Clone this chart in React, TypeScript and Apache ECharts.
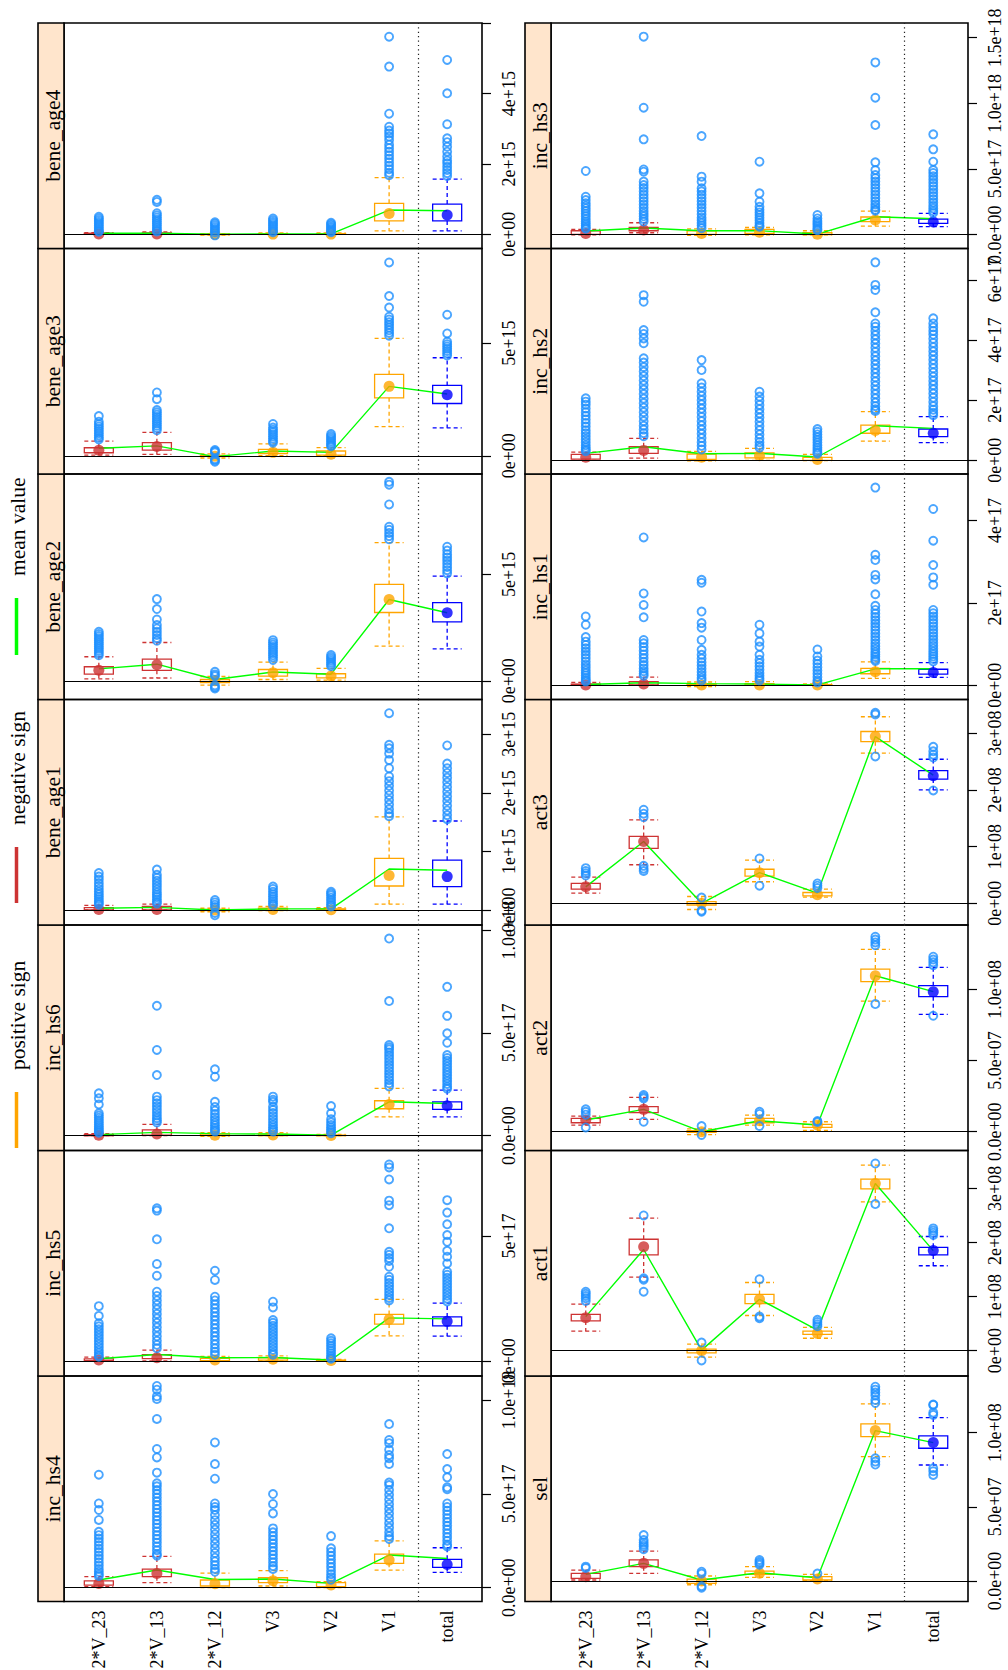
import React, { useEffect, useRef } from "react";
import * as echarts from "echarts";

// ---- data -------------------------------------------------------------

const categories = ["2*V_23", "2*V_13", "2*V_12", "V3", "V2", "V1", "total"];
const categorySign = ["negative", "negative", "positive", "positive", "positive", "positive", "total"];

// panel order follows the lattice layout: sel .. inc_hs3 (first column), inc_hs4 .. bene_age4 (second)
const panelNames = [
  "sel", "act1", "act2", "act3", "inc_hs1", "inc_hs2", "inc_hs3",
  "inc_hs4", "inc_hs5", "inc_hs6", "bene_age1", "bene_age2", "bene_age3", "bene_age4",
];

// values below are stored in units of 10^valueExponent
const valueExponent = [8, 8, 8, 8, 17, 17, 17, 17, 17, 17, 15, 15, 15, 15];

const axisMin = [-0.138, -0.468, -0.132, -0.383, -0.345, -0.455, -1.05, -0.735, -0.61, -0.72, -0.256, -0.88, -0.81, -0.404];
const axisMax = [1.382, 3.7, 1.4526, 3.594, 5.13, 7.04, 16.12, 11.28, 8.43, 10.25, 3.594, 9.72, 9.2, 6.01];

const tickValues = [
  [0, 0.5, 1], [0, 1, 2, 3], [0, 0.5, 1], [0, 1, 2, 3], [0, 2, 4], [0, 2, 4, 6], [0, 5, 10, 15],
  [0, 5, 10], [0, 5], [0, 5, 10], [0, 1, 2, 3], [0, 5], [0, 5], [0, 2, 4, 6],
];
const labelValues = [
  [0, 0.5, 1], [0, 1, 2, 3], [0, 0.5, 1], [0, 1, 2, 3], [0, 2, 4], [0, 2, 4, 6], [0, 5, 10, 15],
  [0, 5, 10], [0, 5], [0, 5, 10], [0, 1, 2, 3], [0, 5], [0, 5], [0, 2, 4],
];
const labelDigits = [1, 0, 1, 0, 0, 0, 1, 1, 0, 1, 0, 0, 0, 0];

const lowerHinge = [
  [0.018, 0.097, -0.016, 0.045, 0.007, 0.973, 0.895],
  [0.55, 1.77, -0.04, 0.87, 0.3, 2.99, 1.77],
  [0.063, 0.134, -0.004, 0.063, 0.03, 1.054, 0.949],
  [0.25, 0.97, -0.03, 0.48, 0.13, 2.85, 2.19],
  [0.005, 0.01, 0.0, 0.005, 0.002, 0.28, 0.27],
  [0.04, 0.23, 0.03, 0.08, 0.0, 0.9, 0.79],
  [0.03, 0.3, 0.03, 0.1, 0.0, 0.99, 0.86],
  [0.14, 0.59, 0.09, 0.27, 0.05, 1.3, 1.08],
  [0.01, 0.09, 0.01, 0.03, 0.0, 1.47, 1.4],
  [0.0, 0.03, 0.0, 0.0, 0.0, 1.31, 1.28],
  [0.0, 0.0, -0.01, 0.0, 0.0, 0.41, 0.4],
  [0.31, 0.49, -0.09, 0.22, 0.14, 3.21, 2.77],
  [0.133, 0.25, -0.03, 0.1, 0.03, 2.57, 2.32],
  [0.0, 0.0, -0.01, 0.0, 0.0, 0.38, 0.38],
];

const medians = [
  [0.029, 0.119, 0.0, 0.052, 0.013, 1.014, 0.933],
  [0.61, 1.92, 0.0, 0.95, 0.32, 3.09, 1.85],
  [0.082, 0.157, 0.0, 0.077, 0.047, 1.096, 0.984],
  [0.29, 1.09, 0.0, 0.54, 0.15, 2.94, 2.25],
  [0.01, 0.03, 0.005, 0.01, 0.005, 0.33, 0.31],
  [0.1, 0.33, 0.1, 0.155, 0.03, 0.99, 0.9],
  [0.1, 0.36, 0.1, 0.18, 0.03, 1.12, 0.96],
  [0.23, 0.76, 0.21, 0.37, 0.14, 1.47, 1.24],
  [0.03, 0.12, 0.03, 0.06, 0.01, 1.66, 1.58],
  [0.02, 0.08, 0.02, 0.03, 0.01, 1.52, 1.46],
  [0.01, 0.01, 0.0, 0.01, 0.005, 0.59, 0.57],
  [0.49, 0.75, 0.0, 0.38, 0.22, 3.82, 3.2],
  [0.24, 0.41, -0.02, 0.15, 0.07, 3.08, 2.71],
  [0.01, 0.01, 0.0, 0.005, 0.005, 0.59, 0.55],
];

const upperHinge = [
  [0.052, 0.142, 0.013, 0.067, 0.029, 1.059, 0.978],
  [0.67, 2.06, 0.03, 1.04, 0.36, 3.17, 1.91],
  [0.094, 0.176, 0.008, 0.094, 0.052, 1.143, 1.026],
  [0.35, 1.18, 0.03, 0.6, 0.19, 3.03, 2.34],
  [0.03, 0.09, 0.03, 0.04, 0.015, 0.41, 0.39],
  [0.2, 0.45, 0.21, 0.25, 0.1, 1.17, 1.04],
  [0.3, 0.56, 0.3, 0.41, 0.15, 1.35, 1.19],
  [0.36, 0.99, 0.41, 0.53, 0.27, 1.79, 1.51],
  [0.08, 0.25, 0.1, 0.12, 0.03, 1.86, 1.76],
  [0.05, 0.28, 0.08, 0.08, 0.03, 1.7, 1.65],
  [0.04, 0.06, 0.01, 0.03, 0.02, 0.88, 0.85],
  [0.66, 1.02, 0.06, 0.53, 0.33, 4.53, 3.67],
  [0.355, 0.58, 0.01, 0.28, 0.21, 3.61, 3.12],
  [0.03, 0.04, 0.01, 0.02, 0.02, 0.88, 0.86],
];

const whiskerLow = [
  [0.007, 0.052, -0.025, 0.025, 0.002, 0.838, 0.782],
  [0.36, 1.36, -0.12, 0.65, 0.23, 2.75, 1.57],
  [0.047, 0.087, -0.02, 0.047, 0.01, 0.918, 0.825],
  [0.18, 0.68, -0.11, 0.38, 0.11, 2.65, 2.0],
  [0.0, 0.0, -0.03, 0.0, 0.0, 0.17, 0.19],
  [0.0, 0.07, -0.02, 0.0, -0.01, 0.64, 0.59],
  [-0.02, 0.15, -0.05, -0.02, -0.02, 0.66, 0.61],
  [0.05, 0.27, 0.0, 0.09, 0.0, 0.94, 0.82],
  [0.0, 0.0, -0.02, 0.0, 0.0, 1.0, 0.99],
  [0.0, 0.0, -0.03, 0.0, 0.0, 0.92, 0.92],
  [0.0, 0.0, -0.03, -0.01, 0.0, 0.1, 0.1],
  [0.09, 0.13, -0.2, 0.06, 0.03, 1.63, 1.5],
  [0.03, 0.06, -0.1, 0.0, 0.0, 1.29, 1.24],
  [0.0, 0.0, -0.02, 0.0, 0.0, 0.1, 0.1],
];

const whiskerHigh = [
  [0.074, 0.202, 0.034, 0.097, 0.045, 1.194, 1.101],
  [0.86, 2.45, 0.12, 1.26, 0.43, 3.43, 2.11],
  [0.11, 0.241, 0.02, 0.117, 0.07, 1.281, 1.155],
  [0.46, 1.47, 0.12, 0.76, 0.25, 3.29, 2.54],
  [0.07, 0.2, 0.08, 0.09, 0.035, 0.57, 0.55],
  [0.27, 0.73, 0.3, 0.4, 0.2, 1.62, 1.45],
  [0.4, 0.91, 0.45, 0.55, 0.3, 1.8, 1.62],
  [0.59, 1.67, 0.78, 0.91, 0.32, 2.49, 2.13],
  [0.15, 0.43, 0.18, 0.2, 0.06, 2.46, 2.31],
  [0.1, 0.55, 0.15, 0.15, 0.06, 2.3, 2.22],
  [0.08, 0.1, 0.03, 0.06, 0.04, 1.59, 1.52],
  [1.13, 1.8, 0.2, 0.88, 0.58, 6.49, 4.92],
  [0.65, 1.04, 0.08, 0.53, 0.36, 5.21, 4.35],
  [0.05, 0.07, 0.02, 0.04, 0.04, 1.61, 1.57],
];

const means = [
  [0.045, 0.119, 0.007, 0.056, 0.022, 1.014, 0.933],
  [0.63, 1.87, 0.01, 0.95, 0.38, 3.09, 1.85],
  [0.082, 0.157, 0.0, 0.077, 0.047, 1.096, 0.984],
  [0.29, 1.09, 0.0, 0.54, 0.18, 2.94, 2.26],
  [0.02, 0.06, 0.04, 0.03, 0.01, 0.4, 0.4],
  [0.23, 0.45, 0.22, 0.23, 0.11, 1.15, 1.06],
  [0.28, 0.51, 0.3, 0.3, 0.05, 1.37, 1.22],
  [0.41, 0.94, 0.44, 0.46, 0.23, 1.74, 1.56],
  [0.08, 0.25, 0.12, 0.13, 0.03, 1.72, 1.68],
  [0.05, 0.16, 0.1, 0.08, 0.03, 1.65, 1.57],
  [0.03, 0.045, 0.0, 0.02, 0.02, 0.7, 0.68],
  [0.56, 0.78, 0.06, 0.41, 0.31, 3.82, 3.2],
  [0.33, 0.44, -0.04, 0.21, 0.15, 3.08, 2.74],
  [0.03, 0.03, 0.0, 0.01, 0.01, 0.69, 0.67],
];

const outliers: number[][][] = [
  // sel
  [
    [0.097, 0.088],
    [0.31, 0.276, 0.26, 0.245, 0.232, 0.215],
    [0.063, 0.05, -0.035, -0.045],
    [0.142, 0.13, 0.12, 0.11],
    [0.05],
    [1.31, 1.29, 1.27, 1.25, 1.22, 1.2, 0.827, 0.805, 0.785],
    [1.19, 1.187, 1.135, 1.12, 0.76, 0.74, 0.715],
  ],
  // act1
  [
    [1.09, 1.05, 1.01, 0.97, 0.92],
    [2.5, 1.34, 1.31, 1.09],
    [0.15, -0.18],
    [1.32, 0.63, 0.6],
    [0.57, 0.53, 0.49, 0.45],
    [3.46, 2.71],
    [2.26, 2.22, 2.18, 2.14],
  ],
  // act2
  [
    [0.157, 0.14, 0.12, 0.03],
    [0.258, 0.245, 0.234, 0.07],
    [0.04, -0.023],
    [0.14, 0.125, 0.04],
    [0.075, 0.068],
    [1.37, 1.35, 1.33, 1.31, 0.897],
    [1.23, 1.21, 1.19, 1.17, 0.815],
  ],
  // act3
  [
    [0.62, 0.57, 0.53, 0.49],
    [1.65, 1.58, 1.52, 0.66, 0.61, 0.57],
    [0.1, -0.13, -0.15],
    [0.79, 0.31],
    [0.35, 0.31, 0.27],
    [3.36, 3.33, 2.59],
    [2.76, 2.68, 2.62, 2.57, 1.99],
  ],
  // inc_hs1
  [
    [1.67, 1.47, 1.17, 1.06, 0.98, 0.9, 0.82, 0.74, 0.66, 0.58, 0.5, 0.43, 0.36, 0.3, 0.24, 0.18, 0.13, 0.09],
    [3.59, 2.23, 1.95, 1.65, 1.1, 1.02, 0.93, 0.84, 0.75, 0.66, 0.57, 0.49, 0.41, 0.34, 0.28, 0.23],
    [2.56, 2.49, 1.79, 1.51, 1.4, 1.1, 0.86, 0.74, 0.65, 0.56, 0.48, 0.4, 0.32, 0.25, 0.18, 0.12],
    [1.47, 1.26, 1.06, 0.94, 0.74, 0.62, 0.54, 0.46, 0.38, 0.3, 0.23, 0.17, 0.12],
    [0.87, 0.7, 0.6, 0.52, 0.44, 0.36, 0.28, 0.2, 0.12, 0.07],
    [4.8, 3.17, 3.04, 2.68, 2.57, 2.21, 1.93, 1.83, 1.74, 1.66, 1.58, 1.5, 1.42, 1.34, 1.26, 1.18, 1.1, 1.02, 0.95, 0.88, 0.81, 0.75, 0.69, 0.63, 0.59],
    [4.28, 3.51, 2.92, 2.62, 2.44, 1.83, 1.75, 1.67, 1.59, 1.51, 1.43, 1.35, 1.27, 1.19, 1.11, 1.03, 0.96, 0.89, 0.82, 0.76, 0.7, 0.64, 0.58],
  ],
  // inc_hs2
  [
    [2.06, 1.95, 1.85, 1.72, 1.6, 1.48, 1.36, 1.24, 1.12, 1.0, 0.9, 0.8, 0.7, 0.6, 0.5, 0.42, 0.35, 0.3],
    [5.49, 5.27, 4.33, 4.2, 4.05, 3.89, 3.39, 3.25, 3.1, 2.95, 2.8, 2.65, 2.5, 2.35, 2.2, 2.05, 1.9, 1.75, 1.6, 1.45, 1.3, 1.15, 1.02, 0.9, 0.8],
    [3.33, 3.0, 2.56, 2.42, 2.28, 2.14, 2.0, 1.86, 1.72, 1.58, 1.44, 1.3, 1.16, 1.02, 0.88, 0.74, 0.6, 0.48, 0.36],
    [2.28, 2.12, 1.98, 1.84, 1.7, 1.56, 1.42, 1.28, 1.14, 1.0, 0.86, 0.72, 0.6, 0.5, 0.42],
    [1.04, 0.95, 0.86, 0.77, 0.68, 0.59, 0.5, 0.42, 0.34, 0.27, 0.22],
    [6.58, 5.83, 5.66, 4.92, 4.55, 4.44, 4.3, 4.16, 4.02, 3.88, 3.74, 3.6, 3.46, 3.32, 3.18, 3.04, 2.9, 2.76, 2.62, 2.48, 2.34, 2.2, 2.06, 1.92, 1.8, 1.7, 1.64],
    [4.72, 4.55, 4.42, 4.3, 4.18, 4.04, 3.9, 3.76, 3.62, 3.48, 3.34, 3.2, 3.06, 2.92, 2.78, 2.64, 2.5, 2.36, 2.22, 2.08, 1.94, 1.8, 1.68, 1.58, 1.5],
  ],
  // inc_hs3
  [
    [4.85, 2.89, 2.64, 2.4, 2.2, 2.0, 1.8, 1.6, 1.4, 1.2, 1.0, 0.85, 0.7, 0.55, 0.45],
    [15.08, 9.67, 7.26, 4.97, 4.8, 4.04, 3.78, 3.55, 3.3, 3.05, 2.8, 2.55, 2.3, 2.05, 1.8, 1.6, 1.4, 1.2, 1.0],
    [7.51, 4.42, 4.04, 3.53, 3.3, 3.05, 2.8, 2.55, 2.3, 2.05, 1.8, 1.55, 1.3, 1.1, 0.9, 0.7, 0.5],
    [5.56, 3.15, 2.51, 2.13, 1.9, 1.7, 1.5, 1.3, 1.1, 0.9, 0.7, 0.6],
    [1.5, 1.24, 1.05, 0.9, 0.75, 0.6, 0.45, 0.35],
    [13.12, 10.43, 8.35, 5.51, 4.92, 4.54, 4.3, 4.05, 3.8, 3.55, 3.3, 3.05, 2.8, 2.55, 2.3, 2.1, 1.9, 1.82],
    [7.64, 6.5, 5.56, 4.92, 4.7, 4.45, 4.2, 3.95, 3.7, 3.45, 3.2, 2.95, 2.7, 2.45, 2.2, 2.0, 1.8, 1.65],
  ],
  // inc_hs4
  [
    [6.02, 4.49, 4.14, 3.61, 2.98, 2.8, 2.62, 2.44, 2.26, 2.08, 1.9, 1.72, 1.54, 1.36, 1.18, 1.0, 0.85, 0.72, 0.62],
    [10.75, 10.55, 10.2, 10.05, 8.99, 7.39, 6.94, 6.13, 5.56, 5.4, 5.2, 5.0, 4.8, 4.6, 4.4, 4.2, 4.0, 3.8, 3.6, 3.4, 3.2, 3.0, 2.8, 2.6, 2.4, 2.2, 2.0, 1.8, 1.7],
    [7.74, 6.59, 5.81, 4.49, 4.3, 4.14, 3.87, 3.6, 3.35, 3.1, 2.85, 2.6, 2.35, 2.1, 1.85, 1.6, 1.4, 1.2, 1.0, 0.85],
    [4.99, 4.46, 3.96, 3.16, 2.95, 2.75, 2.55, 2.35, 2.15, 1.95, 1.75, 1.55, 1.35, 1.15, 1.0],
    [2.75, 2.1, 1.9, 1.7, 1.5, 1.3, 1.1, 0.9, 0.72, 0.56, 0.42],
    [8.72, 7.87, 7.7, 7.35, 7.07, 6.9, 6.59, 5.6, 5.47, 5.2, 4.95, 4.7, 4.45, 4.2, 3.95, 3.7, 3.45, 3.2, 2.95, 2.75, 2.6],
    [7.12, 6.32, 5.88, 5.35, 5.25, 4.49, 4.3, 4.1, 3.9, 3.7, 3.5, 3.3, 3.1, 2.9, 2.7, 2.5, 2.3, 2.2],
  ],
  // inc_hs5
  [
    [2.19, 1.8, 1.5, 1.38, 1.26, 1.14, 1.02, 0.9, 0.78, 0.66, 0.54, 0.42, 0.32, 0.22, 0.16],
    [6.11, 6.02, 4.87, 3.88, 3.41, 2.77, 2.6, 2.42, 2.24, 2.06, 1.88, 1.7, 1.52, 1.34, 1.16, 0.98, 0.8, 0.64, 0.5],
    [3.61, 3.24, 2.57, 2.42, 2.26, 2.1, 1.94, 1.78, 1.62, 1.46, 1.3, 1.14, 0.98, 0.82, 0.66, 0.5, 0.36, 0.24],
    [2.37, 2.14, 1.63, 1.52, 1.4, 1.28, 1.16, 1.04, 0.92, 0.8, 0.68, 0.56, 0.44, 0.32, 0.24],
    [0.9, 0.8, 0.7, 0.6, 0.5, 0.4, 0.3, 0.2, 0.12, 0.08],
    [7.87, 7.75, 7.27, 6.42, 6.24, 5.31, 4.37, 4.25, 4.12, 4.0, 3.77, 3.37, 3.25, 3.12, 3.0, 2.88, 2.76, 2.64, 2.52, 2.42],
    [6.44, 5.94, 5.47, 5.04, 4.77, 4.41, 4.17, 3.9, 3.57, 3.45, 3.33, 3.21, 3.09, 2.97, 2.85, 2.73, 2.61, 2.49, 2.38],
  ],
  // inc_hs6
  [
    [2.06, 1.82, 1.52, 1.09, 0.98, 0.87, 0.76, 0.65, 0.55, 0.45, 0.36, 0.28, 0.2, 0.14],
    [6.32, 4.17, 2.95, 1.9, 1.73, 1.58, 1.43, 1.28, 1.13, 0.98, 0.85, 0.74, 0.64],
    [3.23, 2.87, 1.65, 1.4, 1.22, 1.05, 0.9, 0.76, 0.62, 0.5, 0.38, 0.28, 0.2],
    [1.9, 1.75, 1.65, 1.41, 1.25, 1.1, 0.95, 0.8, 0.66, 0.52, 0.4, 0.3, 0.2],
    [1.44, 1.09, 0.8, 0.65, 0.52, 0.4, 0.3, 0.2, 0.12],
    [9.59, 6.55, 4.41, 4.3, 4.2, 4.05, 3.9, 3.75, 3.6, 3.45, 3.3, 3.15, 3.0, 2.85, 2.7, 2.55, 2.4],
    [7.24, 5.83, 4.98, 4.52, 3.92, 3.78, 3.64, 3.5, 3.36, 3.22, 3.08, 2.94, 2.8, 2.66, 2.52, 2.38, 2.28],
  ],
  // bene_age1
  [
    [0.63, 0.57, 0.52, 0.46, 0.41, 0.36, 0.31, 0.27, 0.23, 0.19, 0.15, 0.12, 0.09],
    [0.69, 0.6, 0.55, 0.5, 0.45, 0.4, 0.35, 0.3, 0.26, 0.22, 0.18, 0.14, 0.11],
    [0.17, 0.13, 0.09, 0.05, -0.05, -0.09],
    [0.4, 0.36, 0.31, 0.27, 0.23, 0.19, 0.15, 0.11, 0.08],
    [0.31, 0.28, 0.25, 0.21, 0.17, 0.13, 0.09, 0.06],
    [3.36, 2.82, 2.76, 2.67, 2.56, 2.42, 2.28, 2.2, 2.12, 2.04, 1.96, 1.88, 1.8, 1.72, 1.65, 1.6],
    [2.81, 2.5, 2.42, 2.34, 2.26, 2.18, 2.1, 2.02, 1.94, 1.86, 1.78, 1.7, 1.62, 1.55],
  ],
  // bene_age2
  [
    [2.3, 2.2, 2.1, 2.0, 1.9, 1.8, 1.7, 1.6, 1.5, 1.4, 1.3, 1.2],
    [3.84, 3.37, 2.88, 2.62, 2.46, 2.3, 2.15, 2.0, 1.88],
    [0.42, 0.3, 0.22, -0.22, -0.3, -0.36],
    [1.91, 1.8, 1.7, 1.6, 1.5, 1.4, 1.3, 1.2, 1.1, 0.98],
    [1.21, 1.12, 1.03, 0.94, 0.85, 0.76, 0.68],
    [9.35, 9.22, 8.29, 7.24, 7.1, 6.95, 6.8, 6.65],
    [6.3, 6.12, 5.95, 5.8, 5.65, 5.5, 5.35, 5.2, 5.05],
  ],
  // bene_age3
  [
    [1.76, 1.51, 1.4, 1.3, 1.2, 1.1, 1.0, 0.9, 0.8, 0.72],
    [2.81, 2.51, 2.03, 1.93, 1.83, 1.73, 1.63, 1.53, 1.43, 1.33, 1.23, 1.13],
    [0.25, 0.2, 0.15, -0.15, -0.21, -0.27],
    [1.41, 1.25, 1.15, 1.05, 0.95, 0.85, 0.75, 0.65, 0.58],
    [0.96, 0.88, 0.8, 0.72, 0.64, 0.56, 0.48, 0.42],
    [8.58, 7.09, 6.58, 6.17, 6.05, 5.93, 5.81, 5.69, 5.57, 5.45, 5.33],
    [6.26, 5.43, 5.06, 4.95, 4.85, 4.75, 4.65, 4.55, 4.45],
  ],
  // bene_age4
  [
    [0.5, 0.45, 0.4, 0.35, 0.3, 0.25, 0.2, 0.15, 0.1, 0.07],
    [0.98, 0.92, 0.6, 0.54, 0.48, 0.42, 0.36, 0.3, 0.24, 0.18, 0.12, 0.08],
    [0.34, 0.3, 0.25, 0.2, 0.15, 0.1, 0.05, -0.03],
    [0.45, 0.4, 0.35, 0.3, 0.25, 0.2, 0.15, 0.1, 0.06],
    [0.33, 0.29, 0.25, 0.21, 0.17, 0.13, 0.09, 0.06],
    [5.62, 4.77, 3.43, 3.06, 2.95, 2.87, 2.78, 2.68, 2.55, 2.45, 2.35, 2.25, 2.15, 2.05, 1.95, 1.85, 1.75, 1.68],
    [4.96, 4.01, 3.13, 2.73, 2.62, 2.49, 2.35, 2.21, 2.1, 2.02, 1.92, 1.83, 1.74, 1.66],
  ],
];

const legendLabels = ["positive sign", "negative sign", "mean value"];
const legendSigns = ["positive", "negative", "mean"];

// ---- styling & layout ---------------------------------------------------

const SERIF = "Liberation Serif";
const signColor: Record<string, string> = {
  negative: "#CD3333",
  positive: "#FFA500",
  total: "#0000FF",
  mean: "#00FF00",
};
const OUTLIER_COLOR = "#1E90FF";
const STRIP_FILL = "#FFE5CC";

const PANEL_TOP = 23;
const PANEL_H = 225.5;
const STRIP_W = 26;
const BOX_WIDTH = 0.5;
const COLUMN = {
  right: { strip: 525, panel: 551, width: 417 },
  left: { strip: 38, panel: 64, width: 418 },
};

// axis texts use rich styling so the serif face is applied to every label
const axisRich = {
  t: { fontFamily: SERIF, fontSize: 18, color: "#000" },
};

function panelBox(p: number) {
  const col = p < 7 ? COLUMN.right : COLUMN.left;
  const row = 6 - (p % 7);
  return { strip: col.strip, x: col.panel, w: col.width, y: PANEL_TOP + row * PANEL_H };
}

function sci(v: number, digits: number, exp: number) {
  if (Math.abs(v) < 1e-12) return (0).toFixed(digits) + "e+00";
  const e10 = Math.floor(Math.log10(Math.abs(v)) + 1e-9);
  const mant = v / Math.pow(10, e10);
  const e = e10 + exp;
  return mant.toFixed(digits) + "e" + (e < 0 ? "-" : "+") + String(Math.abs(e)).padStart(2, "0");
}

function renderBox(_params: any, api: any) {
  const x = api.value(0);
  const j = Math.round(x) - 1;
  const color = signColor[categorySign[j]];
  const half = api.size([BOX_WIDTH, 0])[0] / 2;
  const c1 = api.coord([x, api.value(1)]);
  const cx = c1[0];
  const yQ1 = c1[1];
  const yQ3 = api.coord([x, api.value(3)])[1];
  const yLo = api.coord([x, api.value(4)])[1];
  const yHi = api.coord([x, api.value(5)])[1];
  const dashed = { stroke: color, lineWidth: 1.3, lineDash: [4, 3], fill: null };
  return {
    type: "group",
    children: [
      { type: "line", shape: { x1: cx, y1: yQ3, x2: cx, y2: yHi }, style: dashed },
      { type: "line", shape: { x1: cx, y1: yQ1, x2: cx, y2: yLo }, style: dashed },
      { type: "line", shape: { x1: cx - half, y1: yHi, x2: cx + half, y2: yHi }, style: dashed },
      { type: "line", shape: { x1: cx - half, y1: yLo, x2: cx + half, y2: yLo }, style: dashed },
      {
        type: "rect",
        shape: { x: cx - half, y: yQ3, width: half * 2, height: Math.max(yQ1 - yQ3, 0.5) },
        style: { stroke: color, fill: "transparent", lineWidth: 1.3 },
      },
    ],
  };
}

function buildOption() {
  const grid: any[] = [];
  const xAxis: any[] = [];
  const yAxis: any[] = [];
  const series: any[] = [];
  const graphics: any[] = [];

  panelNames.forEach((name, p) => {
    const box = panelBox(p);
    const isBottom = p % 7 === 0;
    grid.push({
      left: box.x,
      top: box.y,
      width: box.w,
      height: PANEL_H,
      show: true,
      borderColor: "#000",
      borderWidth: 1.6,
      backgroundColor: "transparent",
      containLabel: false,
      outerBoundsMode: "none",
    });
    xAxis.push({
      gridIndex: p,
      type: "value",
      min: 0.4,
      max: 7.6,
      axisLine: { show: false },
      axisTick: { show: false },
      splitLine: { show: false },
      axisLabel: {
        show: isBottom,
        customValues: categories.map((_, j) => j + 1),
        formatter: (v: number) => "{t|" + (categories[Math.round(v) - 1] ?? "") + "}",
        rich: axisRich,
        rotate: 90,
        margin: 9,
        fontSize: 18,
        fontFamily: SERIF,
        color: "#000",
      },
    });
    yAxis.push({
      gridIndex: p,
      type: "value",
      position: "right",
      min: axisMin[p],
      max: axisMax[p],
      axisLine: { show: false },
      splitLine: { show: false },
      axisTick: {
        show: true,
        inside: false,
        length: 9,
        customValues: tickValues[p],
        lineStyle: { color: "#000", width: 1.2 },
      },
      axisLabel: {
        show: true,
        rotate: 90,
        margin: 18,
        customValues: labelValues[p],
        formatter: (v: number) => "{t|" + sci(v, labelDigits[p], valueExponent[p]) + "}",
        rich: axisRich,
        fontSize: 18,
        fontFamily: SERIF,
        color: "#000",
      },
    });

    series.push({
      type: "custom",
      name: name + " boxes",
      xAxisIndex: p,
      yAxisIndex: p,
      silent: true,
      z: 2,
      encode: { x: 0, y: [1, 2, 3, 4, 5] },
      data: categories.map((_, j) => [
        j + 1,
        lowerHinge[p][j],
        medians[p][j],
        upperHinge[p][j],
        whiskerLow[p][j],
        whiskerHigh[p][j],
      ]),
      renderItem: renderBox,
    });
    series.push({
      type: "line",
      name: name + " mean",
      xAxisIndex: p,
      yAxisIndex: p,
      silent: true,
      z: 3,
      showSymbol: false,
      symbol: "none",
      lineStyle: { color: signColor.mean, width: 1.4 },
      data: categories.map((_, j) => [j + 1, means[p][j]]),
      markLine: {
        silent: true,
        symbol: ["none", "none"],
        label: { show: false },
        animation: false,
        data: [
          { xAxis: 6.5, lineStyle: { color: "#222", type: [1.2, 3.2], width: 1.2 } },
          { yAxis: 0, lineStyle: { color: "#000", type: "solid", width: 1.2 } },
        ],
      },
    });
    series.push({
      type: "scatter",
      name: name + " median",
      xAxisIndex: p,
      yAxisIndex: p,
      silent: true,
      z: 4,
      symbol: "circle",
      symbolSize: 11,
      data: categories.map((_, j) => ({
        value: [j + 1, medians[p][j]],
        itemStyle: { color: signColor[categorySign[j]] },
      })),
    });
    series.push({
      type: "scatter",
      name: name + " outliers",
      xAxisIndex: p,
      yAxisIndex: p,
      silent: true,
      z: 5,
      symbol: "circle",
      symbolSize: 8,
      itemStyle: { color: "rgba(0,0,0,0)", borderColor: OUTLIER_COLOR, borderWidth: 1.9 },
      data: outliers[p].flatMap((vals, j) => vals.map((v) => [j + 1, v])),
    });

    // strip with the panel name
    graphics.push({
      type: "rect",
      silent: true,
      z: 10,
      shape: { x: box.strip, y: box.y, width: STRIP_W, height: PANEL_H },
      style: { fill: STRIP_FILL, stroke: "#000", lineWidth: 1.6 },
    });
    graphics.push({
      type: "text",
      silent: true,
      z: 11,
      x: box.strip + STRIP_W / 2 + 2,
      y: box.y + PANEL_H / 2,
      rotation: Math.PI / 2,
      style: {
        text: name,
        fontSize: 21.5,
        fontFamily: SERIF,
        fill: "#000",
        align: "center",
        verticalAlign: "middle",
      },
    });
  });

  // key (rotated, running up the left margin)
  const keyLineSpans = [
    [1092, 1148],
    [847, 903],
    [598, 655],
  ];
  legendLabels.forEach((label, k) => {
    const [y0, y1] = keyLineSpans[k];
    graphics.push({
      type: "line",
      silent: true,
      z: 10,
      shape: { x1: 16.5, y1: y0, x2: 16.5, y2: y1 },
      style: { stroke: signColor[legendSigns[k]], lineWidth: 3.5 },
    });
    graphics.push({
      type: "text",
      silent: true,
      z: 10,
      x: 18,
      y: y0 - 22,
      rotation: Math.PI / 2,
      style: {
        text: label,
        fontSize: 21.5,
        fontFamily: SERIF,
        fill: "#000",
        align: "left",
        verticalAlign: "middle",
      },
    });
  });

  return {
    animation: false,
    backgroundColor: "#fff",
    textStyle: { fontFamily: SERIF },
    grid,
    xAxis,
    yAxis,
    series,
    graphic: { elements: graphics },
  };
}

export default function App() {
  const ref = useRef<HTMLDivElement>(null);
  useEffect(() => {
    document.body.style.margin = "0";
    const chart = echarts.init(ref.current!, undefined, { renderer: "svg" });
    chart.setOption(buildOption() as any);
    return () => chart.dispose();
  }, []);
  return (
    <div
      ref={ref}
      style={{ position: "absolute", left: 0, top: 0, width: 1008, height: 1670, background: "#fff" }}
    />
  );
}
